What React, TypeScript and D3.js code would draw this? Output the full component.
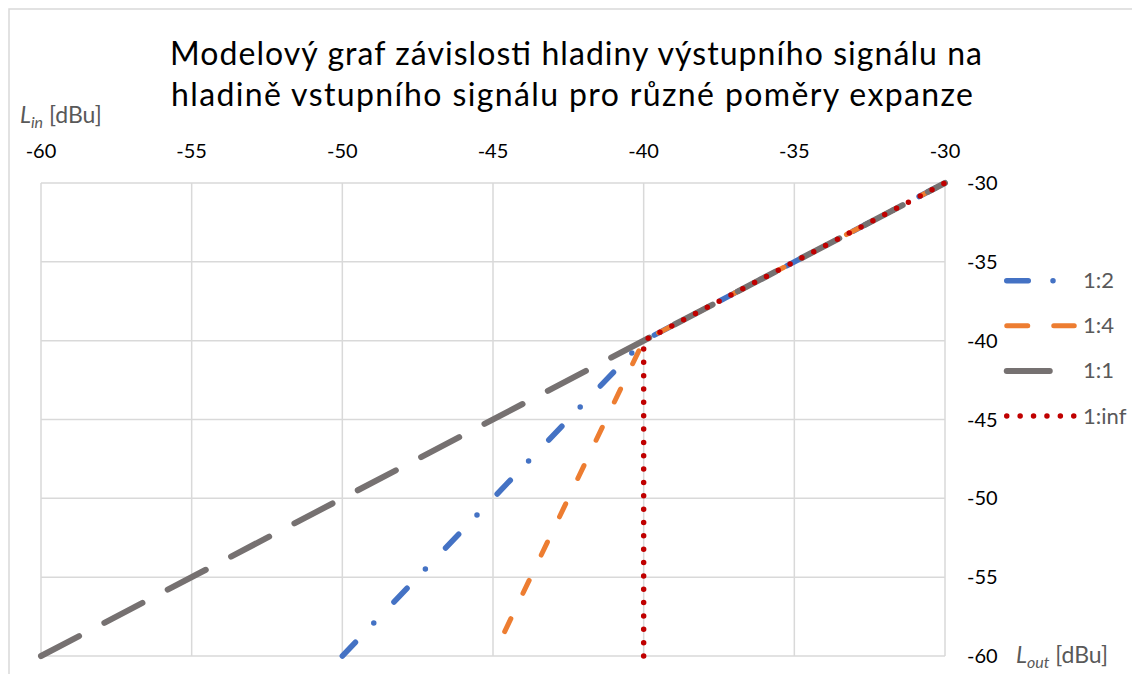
import React from 'react';
import * as d3 from 'd3';

// axis ticks (both axes share the same range)
const tickValues = [-60, -55, -50, -45, -40, -35, -30];

// series: input level -> output level
const seriesNames = ['1:2', '1:4', '1:1', '1:inf'];
const inRatio12 = [-50, -40, -30];
const outRatio12 = [-60, -40, -30];
const inRatio14 = [-45, -40, -30];
const outRatio14 = [-60, -40, -30];
const inRatio11 = [-60, -30];
const outRatio11 = [-60, -30];
const inRatioInf = [-40, -40, -30];
const outRatioInf = [-60, -40, -30];

const titleLines = [
  'Modelový graf závislosti hladiny výstupního signálu na',
  'hladině vstupního signálu pro různé poměry expanze',
];

const FONT = "Lato, 'Open Sans', sans-serif";

const styles = [
  { color: '#4472C4', width: 5.5, dash: '19 26.5 0 29.2', offset: 0, legendDash: '21.5 24.75 0 40' },
  { color: '#ED7D31', width: 5, dash: '14.3 28.1', offset: 15.3, legendDash: '21 26' },
  { color: '#767171', width: 6, dash: '43 28.5', offset: 0, legendDash: '43 28.5' },
  { color: '#C00000', width: 5.5, dash: '0 13.35', offset: 0, legendDash: '0 13.4' },
];

export default function App() {
  const W = 1132;
  const H = 674;
  const x = d3.scaleLinear().domain([-60, -30]).range([41, 945]);
  const y = d3.scaleLinear().domain([-60, -30]).range([656, 183]);

  const data = [
    d3.zip(inRatio12, outRatio12),
    d3.zip(inRatio14, outRatio14),
    d3.zip(inRatio11, outRatio11),
    d3.zip(inRatioInf, outRatioInf),
  ];

  const line = d3
    .line<number[]>()
    .x((d) => x(d[0]))
    .y((d) => y(d[1]));

  const legendY = d3.scalePoint<string>().domain(seriesNames).range([280.7, 416]);

  const titleX = [576, 572];
  const titleLen = [812, 802];

  return (
    <div style={{ position: 'fixed', left: 0, top: 0 }}>
      <svg width={W} height={H} style={{ display: 'block', background: '#fff' }}>
        <rect x={9} y={9} width={W + 20} height={H + 20} fill="#fff" stroke="#d9d9d9" strokeWidth={1.5} />

        {titleLines.map((t, i) => (
          <text
            key={i}
            x={titleX[i]}
            y={65 + i * 41}
            textAnchor="middle"
            textLength={titleLen[i]}
            fontFamily={FONT}
            fontSize={32}
            fill="#000"
          >
            {t}
          </text>
        ))}

        {/* grid */}
        {tickValues.map((v) => (
          <line key={'gx' + v} x1={x(v)} x2={x(v)} y1={y(-60)} y2={y(-30)} stroke="#d9d9d9" strokeWidth={1.5} />
        ))}
        {tickValues.map((v) => (
          <line key={'gy' + v} x1={x(-60)} x2={x(-30)} y1={y(v)} y2={y(v)} stroke="#d9d9d9" strokeWidth={1.5} />
        ))}

        {/* top axis labels */}
        {tickValues.map((v) => (
          <text key={'tx' + v} x={x(v)} y={158} textAnchor="middle" fontFamily={FONT} fontSize={20} fill="#000">
            {v}
          </text>
        ))}
        {/* right axis labels */}
        {tickValues.map((v) => (
          <text key={'ty' + v} x={967} y={y(v) + 7} fontFamily={FONT} fontSize={20} fill="#000">
            {v}
          </text>
        ))}

        {/* axis titles */}
        <text x={20} y={123} fontFamily={FONT} fontSize={23} fill="#595959">
          <tspan fontStyle="italic">L</tspan>
          <tspan fontStyle="italic" fontSize={16} dy={5}>in</tspan>
          <tspan dy={-5}> [dBu]</tspan>
        </text>
        <text x={1016} y={663} fontFamily={FONT} fontSize={23} fill="#595959">
          <tspan fontStyle="italic">L</tspan>
          <tspan fontStyle="italic" fontSize={16} dy={5}>out</tspan>
          <tspan dy={-5}> [dBu]</tspan>
        </text>

        {/* series */}
        {data.map((d, i) => (
          <path
            key={seriesNames[i]}
            d={line(d) || ''}
            fill="none"
            stroke={styles[i].color}
            strokeWidth={styles[i].width}
            strokeDasharray={styles[i].dash}
            strokeDashoffset={styles[i].offset}
            strokeLinecap="round"
            strokeLinejoin="round"
          />
        ))}

        {/* legend */}
        {seriesNames.map((name, i) => (
          <g key={'lg' + name}>
            <line
              x1={1006.75}
              x2={1074.25}
              y1={legendY(name)}
              y2={legendY(name)}
              stroke={styles[i].color}
              strokeWidth={styles[i].width}
              strokeDasharray={styles[i].legendDash}
              strokeLinecap="round"
            />
            <text x={1083} y={(legendY(name) || 0) + 7.5} fontFamily={FONT} fontSize={22} fill="#595959">
              {name}
            </text>
          </g>
        ))}
      </svg>
    </div>
  );
}
